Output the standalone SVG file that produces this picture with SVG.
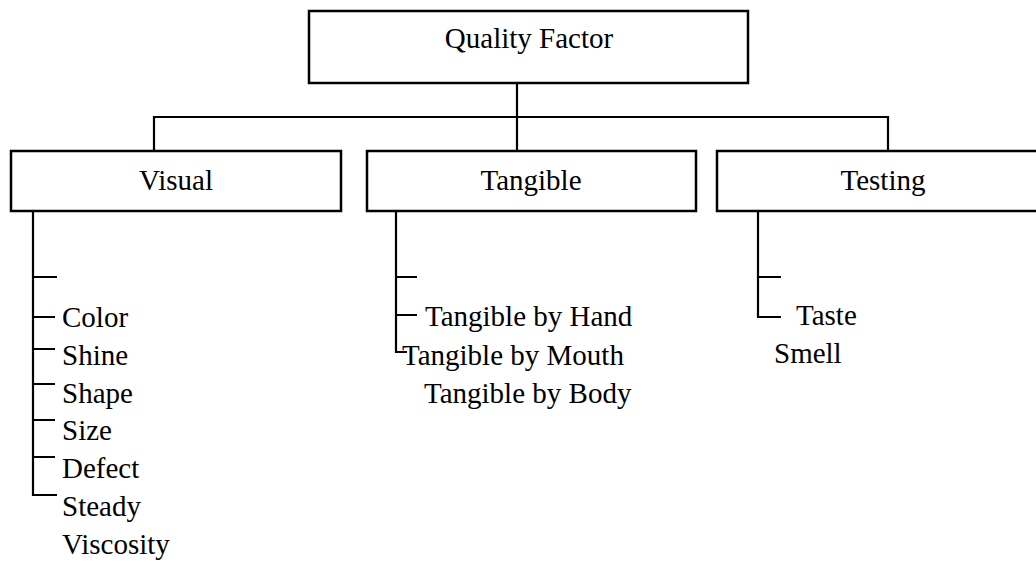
<svg xmlns="http://www.w3.org/2000/svg" width="1036" height="563" viewBox="0 0 1036 563">
<style>
.box{fill:#fff;stroke:#000;stroke-width:2.5}
.ln{fill:none;stroke:#000;stroke-width:2.2}
text{font-family:"Liberation Serif","Times New Roman",serif;font-size:29px;fill:#000}
.c{text-anchor:middle}
</style>
<rect width="1036" height="563" fill="#fff"/>
<g id="connectors">
<path class="ln" d="M517,83 V151 M154,151 V117 H888 V151"/>
<path class="ln" d="M33,211 V495 H57 M33,277 H57 M33,317 H55 M33,349 H55 M33,384 H55 M33,420 H55 M33,457 H55"/>
<path class="ln" d="M396,211 V352 H407 M396,277 H417 M396,315 H417"/>
<path class="ln" d="M758,211 V317 H781 M758,277 H781"/>
</g>
<g id="quality-factor">
<rect class="box" x="309" y="11" width="439" height="72"/>
<text class="c" x="529" y="48">Quality Factor</text>
</g>
<g id="visual">
<rect class="box" x="11" y="151" width="330" height="60"/>
<text class="c" x="176" y="190">Visual</text>
</g>
<g id="tangible">
<rect class="box" x="367" y="151" width="329" height="60"/>
<text class="c" x="531" y="190">Tangible</text>
</g>
<g id="testing">
<rect class="box" x="717" y="151" width="332" height="60"/>
<text class="c" x="883" y="190">Testing</text>
</g>
<g id="visual-items">
<text x="62" y="327">Color</text>
<text x="62" y="365">Shine</text>
<text x="62" y="403">Shape</text>
<text x="62" y="440">Size</text>
<text x="62" y="478">Defect</text>
<text x="62" y="516">Steady</text>
<text x="62" y="554">Viscosity</text>
</g>
<g id="tangible-items">
<text x="425" y="326">Tangible by Hand</text>
<text x="402" y="365">Tangible by Mouth</text>
<text x="424" y="403">Tangible by Body</text>
</g>
<g id="testing-items">
<text x="796" y="325">Taste</text>
<text x="774" y="363">Smell</text>
</g>
</svg>
